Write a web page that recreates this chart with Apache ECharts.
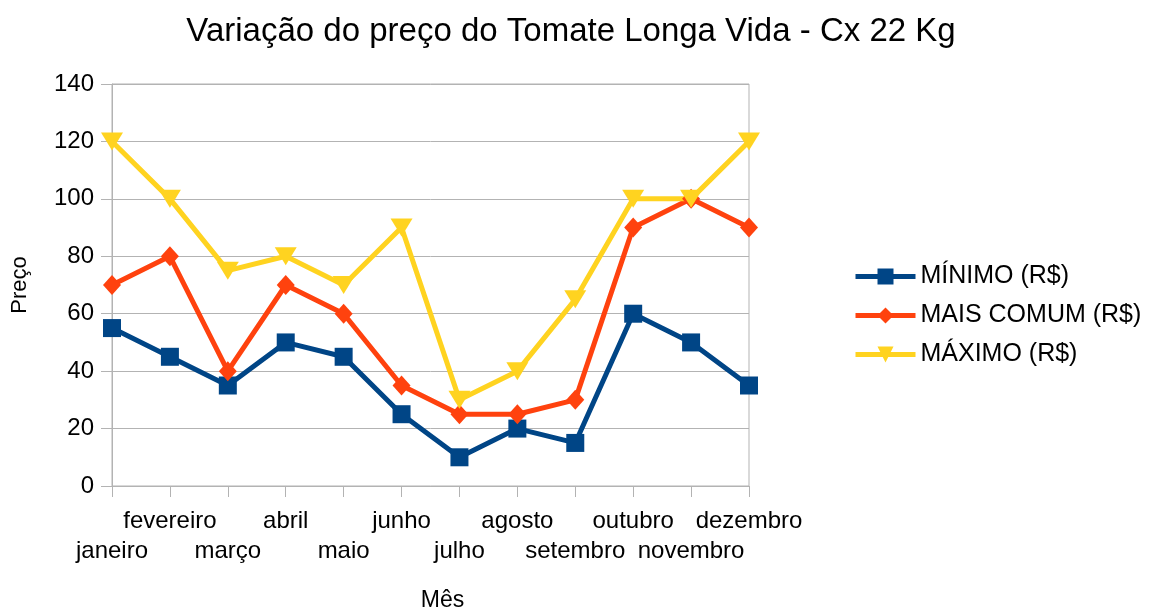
<!DOCTYPE html>
<html>
<head>
<meta charset="utf-8">
<script src="https://cdn.jsdelivr.net/npm/echarts@6/dist/echarts.min.js"></script>
<style>html,body{margin:0;padding:0;background:#fff}#c{width:1159px;height:609px}</style>
</head>
<body>
<div id="c"></div>
<script>
const categories = ['janeiro','fevereiro','março','abril','maio','junho','julho','agosto','setembro','outubro','novembro','dezembro'];
const minimo = [55, 45, 35, 50, 45, 25, 10, 20, 15, 60, 50, 35];
const maisComum = [70, 80, 40, 70, 60, 35, 25, 25, 30, 90, 100, 90];
const maximo = [120, 100, 75, 80, 70, 90, 30, 40, 65, 100, 100, 120];
const yTicks = {min: 0, max: 140, interval: 20};

const font = 'Liberation Sans, Arial, sans-serif';
const chart = echarts.init(document.getElementById('c'));
chart.setOption({
  animation: false,
  title: {
    text: 'Variação do preço do Tomate Longa Vida - Cx 22 Kg',
    left: 566, top: 10, textAlign: 'center',
    textStyle: {fontFamily: font, fontSize: 33, fontWeight: 'normal', color: '#000'}
  },
  legend: {
    orient: 'vertical', left: 853, top: 264, itemGap: 14, padding: 0,
    itemWidth: 60, itemHeight: 20,
    lineStyle: {width: 5},
    textStyle: {fontFamily: font, fontSize: 25, color: '#000', padding: [0,0,0,0]},
    data: ['MÍNIMO (R$)', 'MAIS COMUM (R$)', 'MÁXIMO (R$)']
  },
  grid: {left: 112, right: 410, top: 84, bottom: 123, show: true, borderColor: '#b3b3b3', borderWidth: 1,
         containLabel: false, outerBoundsMode: 'none'},
  xAxis: {
    type: 'category', data: categories, boundaryGap: false,
    name: 'Mês', nameLocation: 'middle', nameGap: 103,
    nameTextStyle: {fontFamily: font, fontSize: 23, color: '#000', padding: [0,0,0,24]},
    axisLine: {lineStyle: {color: '#b3b3b3'}},
    axisTick: {show: true, length: 11, lineStyle: {color: '#b3b3b3'}},
    axisLabel: {
      interval: 0, hideOverlap: false, margin: 20, lineHeight: 30,
      fontFamily: font, fontSize: 24, color: '#000',
      formatter: (v, i) => (i % 2 === 0 ? '\n' + v : v)
    },
    splitLine: {show: false}
  },
  yAxis: {
    type: 'value', min: yTicks.min, max: yTicks.max, interval: yTicks.interval,
    name: 'Preço', nameLocation: 'middle', nameGap: 81, nameRotate: 90,
    nameTextStyle: {fontFamily: font, fontSize: 22, color: '#000'},
    axisLine: {show: true, lineStyle: {color: '#b3b3b3'}},
    axisTick: {show: true, length: 11, lineStyle: {color: '#b3b3b3'}},
    axisLabel: {margin: 18, fontFamily: font, fontSize: 24, color: '#000'},
    splitLine: {lineStyle: {color: '#b3b3b3'}}
  },
  series: [
    {name: 'MÍNIMO (R$)', type: 'line', data: minimo, symbol: 'rect', symbolSize: 18,
     lineStyle: {width: 5, color: '#004586'}, itemStyle: {color: '#004586'}},
    {name: 'MAIS COMUM (R$)', type: 'line', data: maisComum, symbol: 'diamond', symbolSize: [18, 20],
     lineStyle: {width: 5, color: '#ff420e'}, itemStyle: {color: '#ff420e'}},
    {name: 'MÁXIMO (R$)', type: 'line', data: maximo, symbol: 'triangle', symbolRotate: 180, symbolSize: [22, 18],
     lineStyle: {width: 5, color: '#ffd320'}, itemStyle: {color: '#ffd320'}}
  ]
});
</script>
</body>
</html>
